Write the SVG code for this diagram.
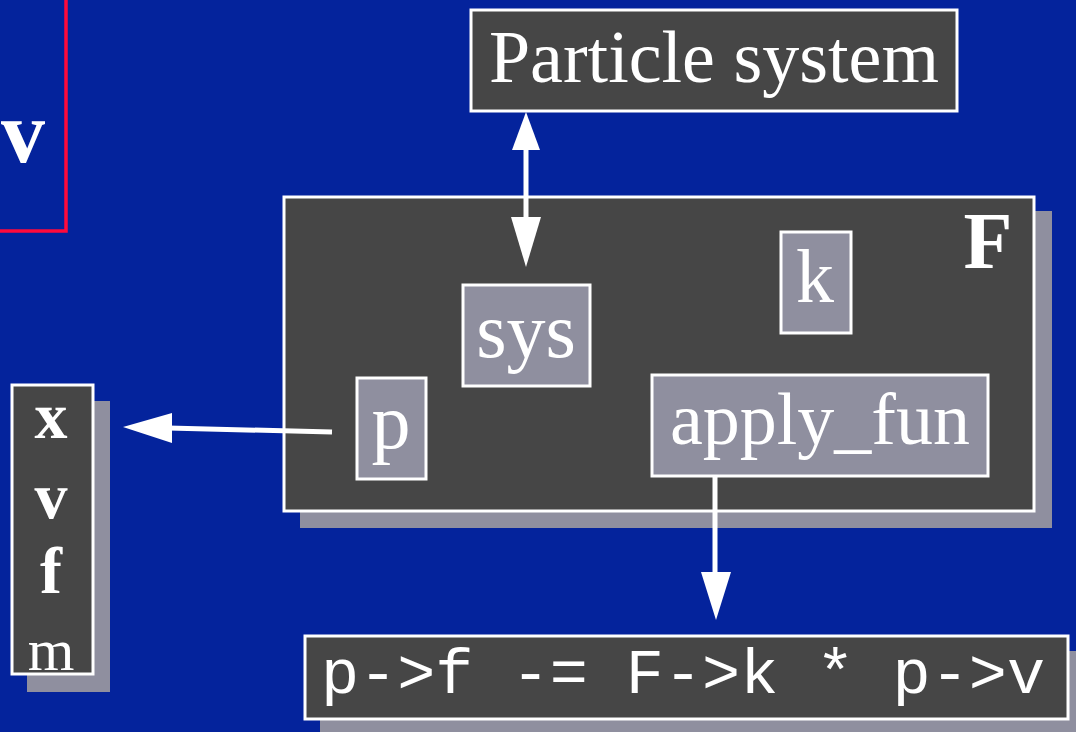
<svg xmlns="http://www.w3.org/2000/svg" width="1076" height="732" viewBox="0 0 1076 732">
<defs>
<style>
.bg{fill:#04239c}
.box{fill:#464646;stroke:#ffffff;stroke-width:3}
.inner{fill:#8f8f9f;stroke:#ffffff;stroke-width:3}
.shadow{fill:#8f8f9f}
.serif{font-family:"Liberation Serif","Times New Roman",serif;fill:#ffffff}
.bold{font-weight:bold}
.mono{font-family:"Liberation Mono","Courier New",monospace;fill:#ffffff}
.line{stroke:#ffffff;stroke-width:5;fill:none}
.head{fill:#ffffff}
</style>
</defs>
<rect class="bg" x="0" y="0" width="1076" height="732"/>

<g id="red-box">
<rect x="-10" y="-10" width="76" height="241" fill="none" stroke="#ff0a3c" stroke-width="3.5"/>
<text class="serif bold" x="1" y="162" font-size="88">v</text>
</g>

<g id="particle-system">
<rect class="box" x="471" y="10" width="486" height="101"/>
<text class="serif" x="714" y="82" font-size="74" text-anchor="middle">Particle system</text>
</g>

<g id="F">
<rect class="shadow" x="300" y="211" width="752" height="317"/>
<rect class="box" x="284" y="197" width="750" height="314"/>
<text class="serif bold" x="988" y="268" font-size="80" text-anchor="middle">F</text>
</g>

<g id="sys">
<rect class="inner" x="463" y="285" width="127" height="101"/>
<text class="serif" x="526" y="357" font-size="78" text-anchor="middle">sys</text>
</g>

<g id="k">
<rect class="inner" x="781" y="232" width="70" height="101"/>
<text class="serif" x="815" y="302" font-size="76" text-anchor="middle">k</text>
</g>

<g id="apply_fun">
<rect class="inner" x="652" y="375" width="336" height="101"/>
<text class="serif" x="820" y="444" font-size="74" text-anchor="middle">apply_fun</text>
</g>

<g id="p">
<rect class="inner" x="357" y="378" width="69" height="101"/>
<text class="serif" x="391" y="448" font-size="78" text-anchor="middle">p</text>
</g>

<g id="particle-fields">
<rect class="shadow" x="27" y="401" width="83" height="291"/>
<rect class="box" x="12" y="385" width="81" height="289" stroke-width="2"/>
<text class="serif bold" x="51" y="438" font-size="66" text-anchor="middle">x</text>
<text class="serif bold" x="51" y="518" font-size="66" text-anchor="middle">v</text>
<text class="serif bold" x="51" y="593" font-size="66" text-anchor="middle">f</text>
<text class="serif" x="51" y="670" font-size="60" text-anchor="middle">m</text>
</g>

<g id="code">
<rect class="shadow" x="320" y="651" width="770" height="100"/>
<rect class="box" x="305" y="636" width="763" height="83"/>
<text class="mono" x="321" y="693" font-size="63" textLength="724" lengthAdjust="spacingAndGlyphs" xml:space="preserve">p-&gt;f -= F-&gt;k * p-&gt;v</text>
</g>

<g id="connectors">
<line class="line" x1="526" y1="148" x2="526" y2="220"/>
<polygon class="head" points="526,112 512,150 540,150"/>
<polygon class="head" points="526,267 511,217 541,217"/>
<line class="line" x1="332" y1="432" x2="168" y2="428"/>
<polygon class="head" points="123,427 172,413 172,443"/>
<line class="line" x1="715" y1="477" x2="715" y2="575"/>
<polygon class="head" points="716,620 701,572 731,572"/>
</g>
</svg>
